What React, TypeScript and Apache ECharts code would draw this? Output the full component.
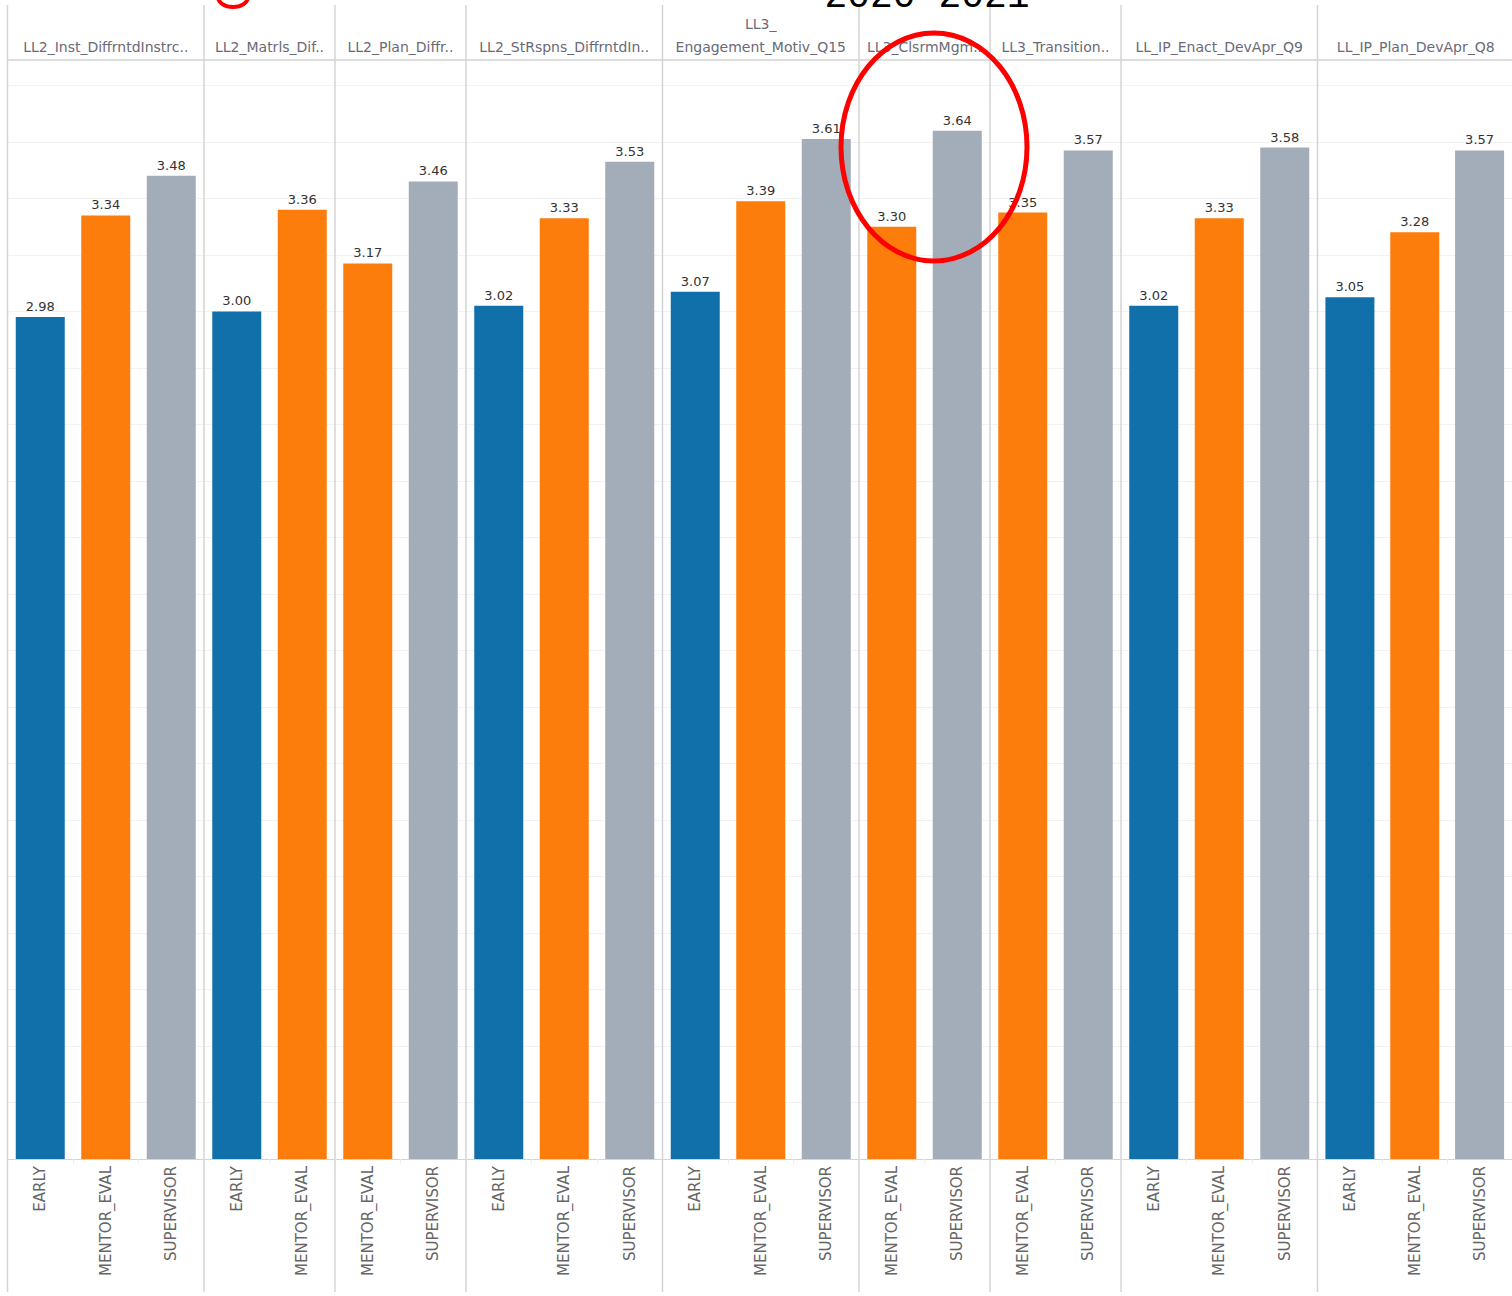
import React, { useEffect, useRef } from "react";
import * as echarts from "echarts";

// ---------- data ----------
const PANEL_LABELS = [
  "LL2_Inst_DiffrntdInstrc..",
  "LL2_Matrls_Dif..",
  "LL2_Plan_Diffr..",
  "LL2_StRspns_DiffrntdIn..",
  "LL3_\nEngagement_Motiv_Q15",
  "LL3_ClsrmMgm..",
  "LL3_Transition..",
  "LL_IP_Enact_DevApr_Q9",
  "LL_IP_Plan_DevApr_Q8",
];

const PANEL_CATEGORIES = [
  ["EARLY", "MENTOR_EVAL", "SUPERVISOR"],
  ["EARLY", "MENTOR_EVAL"],
  ["MENTOR_EVAL", "SUPERVISOR"],
  ["EARLY", "MENTOR_EVAL", "SUPERVISOR"],
  ["EARLY", "MENTOR_EVAL", "SUPERVISOR"],
  ["MENTOR_EVAL", "SUPERVISOR"],
  ["MENTOR_EVAL", "SUPERVISOR"],
  ["EARLY", "MENTOR_EVAL", "SUPERVISOR"],
  ["EARLY", "MENTOR_EVAL", "SUPERVISOR"],
];

const PANEL_VALUES = [
  [2.98, 3.34, 3.48],
  [3.0, 3.36],
  [3.17, 3.46],
  [3.02, 3.33, 3.53],
  [3.07, 3.39, 3.61],
  [3.3, 3.64],
  [3.35, 3.57],
  [3.02, 3.33, 3.58],
  [3.05, 3.28, 3.57],
];

const CATEGORY_COLORS: Record<string, string> = {
  EARLY: "#1170aa",
  MENTOR_EVAL: "#fc7d0b",
  SUPERVISOR: "#a3acb9",
};

const TITLE_TEXT = "2020-2021";
const Y_MIN = 0;
const Y_MAX = 3.89;
const Y_INTERVAL = 0.2;

// ---------- layout ----------
const W = 1512;
const H = 1296;
const LEFT = 7.5;
const SLOT = 65.5;
const PLOT_TOP = 60;
const PLOT_BOTTOM = 1159;
const SEP_TOP = 5;
const SEP_BOTTOM = 1292;
const FONT = '"DejaVu Sans", Verdana, sans-serif';
const LINE_COLOR = "#d4d4d4";

export default function App() {
  const ref = useRef<HTMLDivElement>(null);

  useEffect(() => {
    if (!ref.current) return;
    const chart = echarts.init(ref.current, null, { renderer: "svg" });

    const grids: any[] = [];
    const xAxes: any[] = [];
    const yAxes: any[] = [];
    const series: any[] = [];
    const graphics: any[] = [];

    let slotsSoFar = 0;
    const boundaries: number[] = [LEFT];
    PANEL_CATEGORIES.forEach((cats, i) => {
      const left = LEFT + slotsSoFar * SLOT;
      const width = cats.length * SLOT;
      slotsSoFar += cats.length;
      boundaries.push(left + width);

      grids.push({
        left,
        top: PLOT_TOP,
        width,
        height: PLOT_BOTTOM - PLOT_TOP,
        containLabel: false,
      });
      xAxes.push({
        type: "category",
        gridIndex: i,
        data: cats,
        axisLine: { show: true, lineStyle: { color: LINE_COLOR, width: 1 } },
        axisTick: { show: true, length: 5, lineStyle: { color: "#eeeeee" } },
        axisLabel: {
          rotate: 90,
          fontSize: 15,
          color: "#666666",
          margin: 7,
          fontFamily: FONT,
        },
      });
      yAxes.push({
        type: "value",
        gridIndex: i,
        min: Y_MIN,
        max: Y_MAX,
        interval: Y_INTERVAL,
        axisLabel: { show: false },
        axisLine: { show: false },
        axisTick: { show: false },
        splitLine: { show: true, lineStyle: { color: "#f2f2f2", width: 1 } },
      });
      series.push({
        type: "bar",
        xAxisIndex: i,
        yAxisIndex: i,
        barWidth: 49,
        data: PANEL_VALUES[i].map((v, j) => ({
          value: v,
          itemStyle: { color: CATEGORY_COLORS[cats[j]] },
        })),
        label: {
          show: true,
          position: "top",
          distance: 4,
          fontSize: 13,
          color: "#333333",
          fontFamily: FONT,
          formatter: (p: any) => Number(p.value).toFixed(2),
        },
      });

      graphics.push({
        type: "text",
        x: left + width / 2,
        y: 58,
        z: 10,
        style: {
          text: PANEL_LABELS[i],
          fill: "#6a6a78",
          font: `14px ${FONT}`,
          lineHeight: 23,
          align: "center",
          verticalAlign: "bottom",
          textAlign: "center",
          textVerticalAlign: "bottom",
        },
      });
    });

    // panel separators
    boundaries.forEach((bx) => {
      graphics.push({
        type: "line",
        z: 5,
        shape: { x1: bx, y1: SEP_TOP, x2: bx, y2: SEP_BOTTOM },
        style: { stroke: LINE_COLOR, lineWidth: 1.5 },
      });
    });
    // header bottom line
    graphics.push({
      type: "line",
      z: 5,
      shape: { x1: LEFT, y1: PLOT_TOP, x2: W, y2: PLOT_TOP },
      style: { stroke: LINE_COLOR, lineWidth: 1.5 },
    });

    // partially visible title (cut by the top edge, as in the reference)
    graphics.push({
      type: "text",
      x: 927,
      y: -4,
      z: 50,
      style: {
        text: TITLE_TEXT,
        fill: "#000000",
        font: '38px "Liberation Mono", "DejaVu Sans Mono", monospace',
        align: "center",
        verticalAlign: "middle",
        textAlign: "center",
        textVerticalAlign: "middle",
      },
    });
    // red partial glyph at top-left
    graphics.push({
      type: "ellipse",
      z: 50,
      shape: { cx: 233, cy: -3, rx: 15, ry: 10 },
      style: { fill: null, stroke: "#ff0000", lineWidth: 4 },
    });
    // red highlight ellipse
    graphics.push({
      type: "ellipse",
      z: 60,
      shape: { cx: 934, cy: 147, rx: 93, ry: 114 },
      style: { fill: null, stroke: "#ff0000", lineWidth: 5 },
    });

    chart.setOption({
      animation: false,
      backgroundColor: "#ffffff",
      grid: grids,
      xAxis: xAxes,
      yAxis: yAxes,
      series,
      graphic: graphics,
    });

    return () => chart.dispose();
  }, []);

  return (
    <div
      ref={ref}
      style={{ position: "absolute", left: 0, top: 0, width: W, height: H }}
    />
  );
}
